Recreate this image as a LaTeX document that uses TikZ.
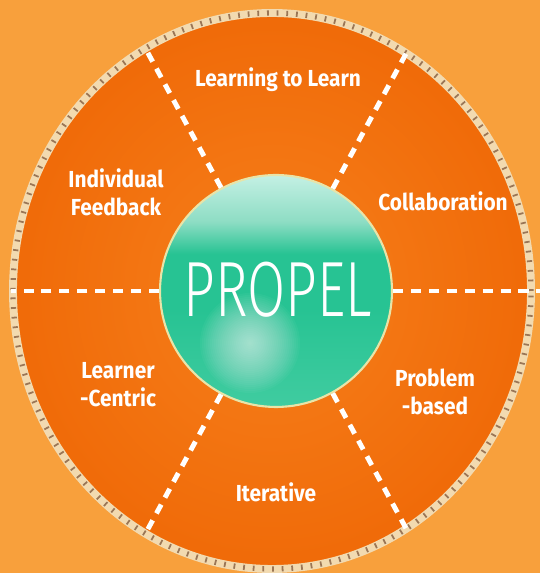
\documentclass[tikz,border=0pt]{standalone}
\usepackage{graphicx}
\usepackage{fontspec}
\setsansfont{Fira Sans}[FakeStretch=0.9]
\IfFontExistsTF{Fira Sans Light}{\newfontfamily\thinfont{Fira Sans Light}}{\newfontfamily\thinfont{Fira Sans}}

\definecolor{bgorange}{HTML}{F8A03C}
\definecolor{diskedge}{HTML}{F06A08}
\definecolor{diskmid}{HTML}{F6801C}
\definecolor{rope}{HTML}{F2DAB0}
\definecolor{ropedark}{HTML}{9A7656}
\definecolor{balltop}{HTML}{C4F0E4}
\definecolor{balllight}{HTML}{8EDDC4}
\definecolor{ballmid}{HTML}{27C393}
\definecolor{ballbot}{HTML}{40CCA0}
\definecolor{ringcol}{HTML}{E8E4A8}
\pgfdeclareverticalshading{glassball}{100bp}{color(0bp)=(ballbot); color(25bp)=(ballbot);
	color(46bp)=(ballmid); color(58bp)=(ballmid); color(65bp)=(balllight); color(75bp)=(balltop); color(100bp)=(balltop)}

\begin{document}
\begin{tikzpicture}[x=0.02cm, y=0.02cm,
	sector/.style={text=white, font=\sffamily\bfseries\fontsize{13.2}{16}\selectfont, align=center},
	divider/.style={white, line width=2.8pt, dash pattern=on 5.7pt off 4.5pt},
	ball/.style={circle, minimum size=4.64cm, draw=ringcol, line width=1.2pt, shading=glassball}]
	\fill[bgorange] (0,0) rectangle (540,573);
	\useasboundingbox (0,0) rectangle (540,573);
	\shade[inner color=diskmid, outer color=diskedge] (272,282) ellipse [x radius=261, y radius=280];
	\draw[rope, line width=4.5pt] (272,282) ellipse [x radius=259, y radius=278];
	\draw[ropedark, line width=3pt, dash pattern=on 1pt off 4.5pt] (272,282) ellipse [x radius=259, y radius=278];

	\node[ball] (propel) at (276,282) {};
	\foreach \r in {2,4,...,50}
		\fill[white, opacity=0.035] (250,230) circle (\r);
	\node[text=white] (title) at (278,283) {\thinfont\resizebox{107pt}{31pt}{PROPEL}};

	\foreach \a/\l in {0/150, 180/148, 61.5/155, 118.5/155, -61.5/156, -118.5/156}
		\draw[divider] (propel.\a) -- ++(\a:\l);

	\node[sector] (learn) at (278,493) {Learning to Learn};
	\node[sector] (collab) at (443,372) {Collaboration};
	\node[sector] (problem) at (435,181) {Problem\\-based};
	\node[sector] (iter) at (276,81) {Iterative};
	\node[sector] (centric) at (118,188) {Learner\\-Centric};
	\node[sector] (feedback) at (116,381) {Individual\\Feedback};
\end{tikzpicture}
\end{document}
